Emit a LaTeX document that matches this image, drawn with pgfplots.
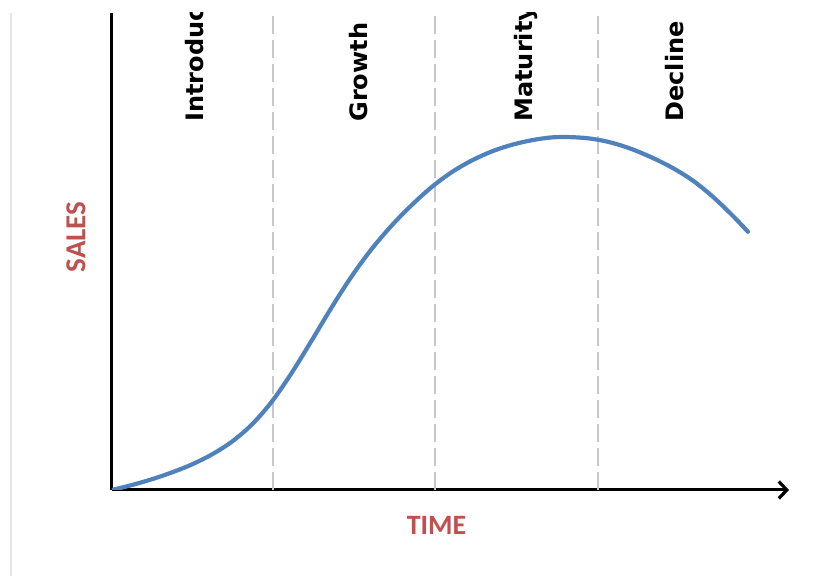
\documentclass[border=0pt]{standalone}
\usepackage{pgfplots}
\pgfplotsset{compat=1.18}
\usepackage{fontspec}
\usetikzlibrary{arrows.meta}
\newfontfamily\dejab{DejaVu Sans}
\newfontfamily\carl{Carlito}
\definecolor{curveblue}{RGB}{79,129,189}
\definecolor{labred}{RGB}{192,80,77}
\definecolor{dashgray}{RGB}{200,200,200}
\begin{document}
\begin{tikzpicture}
\path[use as bounding box] (-56pt,-43pt) rectangle (351.5pt,245pt);
\draw[color=black!10, line width=0.75pt] (-50.5pt,-43pt) -- (-50.5pt,238.5pt);
\begin{axis}[
  anchor=origin, at={(0,0)},
  x=0.5pt, y=0.5pt,
  xmin=0, xmax=677, ymin=0, ymax=477,
  axis x line*=bottom, axis y line*=left,
  xtick=\empty, ytick=\empty,
  axis line style={line width=1.5pt, black},
  x axis line style={-{Straight Barb[length=4pt,width=8.5pt,line width=1.6pt]}},
  clip=true,
]
\addplot[dashgray, line width=0.8pt, dash pattern=on 9pt off 3pt] coordinates {(161,0) (161,477)};
\addplot[dashgray, line width=0.8pt, dash pattern=on 9pt off 3pt] coordinates {(323,0) (323,477)};
\addplot[dashgray, line width=0.8pt, dash pattern=on 9pt off 3pt] coordinates {(486,0) (486,477)};
\addplot[curveblue, line width=2.1pt, line cap=round, smooth, tension=0.55] coordinates {
(0,0) (20,5) (40,10.8) (60,17.6) (80,25.6) (100,35.6) (120,48.4) (140,65.6)
(160,88.6) (180,117.6) (200,150) (220,183.2) (240,214.2) (260,241.4)
(280,264.8) (300,285.2) (320,303.2) (340,318) (360,329.6) (380,338.6)
(400,345.2) (420,349.8) (440,352.6) (460,352.8) (480,351.2) (500,347.2)
(520,340.8) (540,332.4) (560,322.4) (580,310) (600,294) (620,275) (636,258.2)};
\node[rotate=90, anchor=base west, inner sep=0pt, font=\dejab\bfseries\fontsize{12}{14}\selectfont] at (axis cs:91,368) {Introduction};
\node[rotate=90, anchor=base west, inner sep=0pt, font=\dejab\bfseries\fontsize{12}{14}\selectfont] at (axis cs:255,368) {Growth};
\node[rotate=90, anchor=base west, inner sep=0pt, font=\dejab\bfseries\fontsize{12}{14}\selectfont] at (axis cs:420,368) {Maturity};
\node[rotate=90, anchor=base west, inner sep=0pt, font=\dejab\bfseries\fontsize{12}{14}\selectfont] at (axis cs:571,368) {Decline};
\end{axis}
\node[rotate=90, text=labred, inner sep=0pt, font=\carl\bfseries\fontsize{14.5}{16}\selectfont] at (-18pt,126.5pt) {SALES};
\node[text=labred, inner sep=0pt, font=\carl\bfseries\fontsize{14}{16}\selectfont] at (162.25pt,-17.75pt) {TIME};
\end{tikzpicture}
\end{document}
